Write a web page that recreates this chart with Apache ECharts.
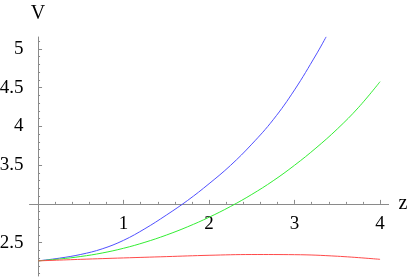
<!DOCTYPE html>
<html>
<head>
<meta charset="utf-8">
<script src="https://cdn.jsdelivr.net/npm/echarts@6/dist/echarts.min.js"></script>
<style>html,body{margin:0;padding:0;background:#fff}#c{width:415px;height:277px}</style>
</head>
<body>
<div id="c"></div>
<script>
// Data
var zBlue  = [0, 0.25, 0.5, 0.75, 1.0, 1.25, 1.5, 1.75, 2.0, 2.25, 2.5, 2.75, 3.0, 3.25, 3.37];
var vBlue  = [2.265, 2.30, 2.348, 2.42, 2.53, 2.68, 2.855, 3.045, 3.26, 3.495, 3.77, 4.085, 4.47, 4.92, 5.155];
var zGreen = [0, 0.25, 0.5, 0.75, 1.0, 1.25, 1.5, 1.75, 2.0, 2.25, 2.5, 2.75, 3.0, 3.25, 3.5, 3.75, 4.0];
var vGreen = [2.265, 2.289, 2.3215, 2.3665, 2.4275, 2.505, 2.5975, 2.705, 2.8275, 2.966, 3.122, 3.298, 3.498, 3.72, 3.966, 4.246, 4.576];
var zRed   = [0, 0.5, 1.0, 1.5, 2.0, 2.5, 3.0, 3.5, 4.0];
var vRed   = [2.265, 2.285, 2.303, 2.32, 2.337, 2.347, 2.345, 2.325, 2.285];

var xLabels = [1, 2, 3, 4];
var yLabels = [2.5, 3.5, 4, 4.5, 5];
var yMajorTicks = [2.5, 3, 3.5, 4, 4.5, 5];
var xMinorTicks = [];
for (var i = 1; i < 20; i++) { if (i % 5 !== 0) xMinorTicks.push(+(i * 0.2).toFixed(2)); }
var yMinorTicks = [];
for (var j = 21; j <= 51; j++) { if (j % 5 !== 0) yMinorTicks.push(+(j * 0.1).toFixed(2)); }

function pairs(xs, ys) { return xs.map(function (x, k) { return [x, ys[k]]; }); }

var XMIN = -0.1, XMAX = 4.1, YMIN = 2.07, YMAX = 5.152, YCROSS = 3;
var GRID_TOP = 37, GRID_BOTTOM = 1, H = 277;
var gridH = H - GRID_TOP - GRID_BOTTOM;
// x axis sits where V = YCROSS: shift it up from the grid bottom
var xAxisOffset = -((YCROSS - YMIN) / (YMAX - YMIN)) * gridH;

var axisColor = '#8a8a8a';
var font = "Liberation Serif, 'Times New Roman', serif";

var chart = echarts.init(document.getElementById('c'), null, { renderer: 'canvas' });
chart.setOption({
  animation: false,
  backgroundColor: '#ffffff',
  grid: { left: 29.5, right: 26.4, top: GRID_TOP, bottom: GRID_BOTTOM, containLabel: false, outerBoundsMode: 'none' },
  xAxis: [
    {
      type: 'value', position: 'bottom', offset: xAxisOffset, min: XMIN, max: XMAX,
      name: 'z', nameLocation: 'end', nameGap: 10,
      nameTextStyle: { color: '#000', fontFamily: font, fontSize: 20, verticalAlign: 'middle', padding: [10, 0, 0, 0] },
      axisLine: { show: true, onZero: false, lineStyle: { color: axisColor, width: 1 } },
      axisTick: { show: true, inside: true, length: 4, customValues: xLabels, lineStyle: { color: axisColor } },
      axisLabel: { show: true, customValues: xLabels, margin: 11, color: '#000', fontFamily: font, fontSize: 19 },
      splitLine: { show: false }
    },
    {
      type: 'value', position: 'bottom', offset: xAxisOffset, min: XMIN, max: XMAX,
      axisLine: { show: false, onZero: false },
      axisTick: { show: true, inside: true, length: 2, customValues: xMinorTicks, lineStyle: { color: axisColor } },
      axisLabel: { show: false },
      splitLine: { show: false }
    }
  ],
  yAxis: [
    {
      type: 'value', position: 'left', min: YMIN, max: YMAX,
      name: 'V', nameLocation: 'end', nameGap: 13,
      nameTextStyle: { color: '#000', fontFamily: font, fontSize: 20 },
      axisLine: { show: true, onZero: true, onZeroAxisIndex: 0, lineStyle: { color: axisColor, width: 1 } },
      axisTick: { show: true, inside: true, length: 4, customValues: yMajorTicks, lineStyle: { color: axisColor } },
      axisLabel: { show: true, customValues: yLabels, margin: 6, color: '#000', fontFamily: font, fontSize: 19 },
      splitLine: { show: false }
    },
    {
      type: 'value', position: 'left', min: YMIN, max: YMAX,
      axisLine: { show: false, onZero: true, onZeroAxisIndex: 0 },
      axisTick: { show: true, inside: true, length: 2, customValues: yMinorTicks, lineStyle: { color: axisColor } },
      axisLabel: { show: false }, splitLine: { show: false }
    }
  ],
  series: [
    { type: 'line', xAxisIndex: 0, yAxisIndex: 0, data: pairs(zBlue, vBlue), smooth: 0.4, showSymbol: false, clip: true,
      lineStyle: { color: '#5050ff', width: 1 }, itemStyle: { color: '#5050ff' } },
    { type: 'line', xAxisIndex: 0, yAxisIndex: 0, data: pairs(zGreen, vGreen), smooth: 0.4, showSymbol: false, clip: true,
      lineStyle: { color: '#33ee33', width: 1 }, itemStyle: { color: '#33ee33' } },
    { type: 'line', xAxisIndex: 0, yAxisIndex: 0, data: pairs(zRed, vRed), smooth: 0.4, showSymbol: false, clip: true,
      lineStyle: { color: '#ff4a4a', width: 1 }, itemStyle: { color: '#ff4a4a' } }
  ]
});
</script>
</body>
</html>
